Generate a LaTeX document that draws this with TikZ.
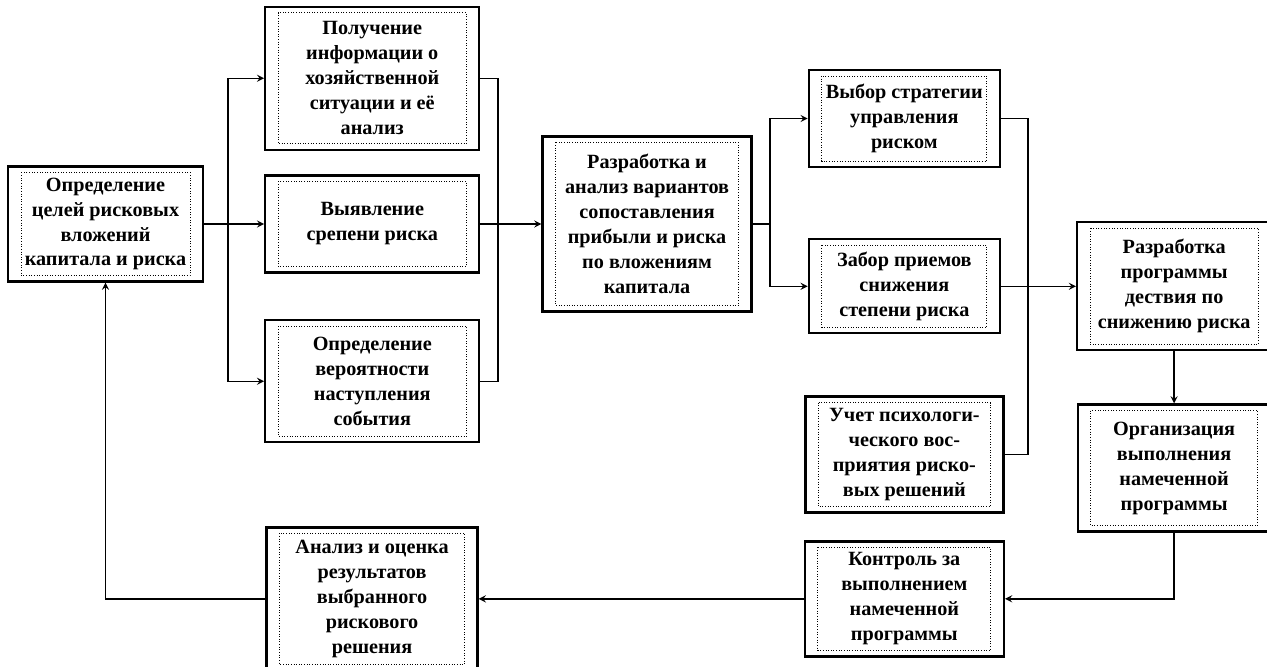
\documentclass[tikz,border=0pt]{standalone}
\usepackage{fontspec}
\setmainfont{Liberation Serif}
\usepackage{tikz}
\usetikzlibrary{arrows, positioning}

\begin{document}
\begin{tikzpicture}[
        every node/.style={font=\fontsize{11.5}{14.2}\selectfont\bfseries},
        box/.style={rectangle, draw, line width=1.3pt, align=center, inner sep=2pt,
            path picture={\draw[densely dotted, line width=0.5pt]
                ([shift={(0.26,-0.12)}]path picture bounding box.north west) rectangle
                ([shift={(-0.26,0.12)}]path picture bounding box.south east);}},
        line/.style={line width=0.8pt},
        arrow/.style={->, >=stealth, line width=0.8pt}
    ]
        \useasboundingbox (0,0) rectangle (25.34,-13.34);

        \node[box, minimum width=3.9cm, minimum height=2.3cm] (goal) at (2.11,-4.48) {Определение \\ целей рисковых \\ вложений \\ капитала и риска};
        \node[box, minimum width=4.28cm, minimum height=1.94cm, right=1.2cm of goal] (degree) {Выявление \\ срепени риска};
        \node[box, minimum width=4.28cm, minimum height=2.86cm, above=0.47cm of degree] (info) {Получение \\ информации о \\ хозяйственной \\ ситуации и её \\ анализ};
        \node[box, minimum width=4.28cm, minimum height=2.44cm, below=0.91cm of degree] (prob) {Определение \\ вероятности \\ наступления \\ события};
        \node[box, minimum width=4.18cm, minimum height=3.5cm, right=1.22cm of degree] (variants) {Разработка и \\ анализ вариантов \\ сопоставления \\ прибыли и риска \\ по вложениям \\ капитала};
        \node[box, minimum width=3.82cm, minimum height=1.94cm, right=1.1cm of variants, yshift=2.11cm] (strategy) {Выбор стратегии \\ управления \\ риском};
        \node[box, minimum width=3.82cm, minimum height=1.88cm, below=1.4cm of strategy] (methods) {Забор приемов \\ снижения \\ степени риска};
        \node[box, minimum width=3.96cm, minimum height=2.32cm, below=1.22cm of methods] (psych) {Учет психологи- \\ ческого вос- \\ приятия риско- \\ вых решений};
        \node[box, minimum width=3.88cm, minimum height=2.56cm, right=1.5cm of methods] (program) {Разработка \\ программы \\ дествия по \\ снижению риска};
        \node[box, minimum width=3.86cm, minimum height=2.54cm, below=1.04cm of program] (organize) {Организация \\ выполнения \\ намеченной \\ программы};
        \node[box, minimum width=3.98cm, minimum height=2.3cm, below=0.53cm of psych] (control) {Контроль за \\ выполнением \\ намеченной \\ программы};
        \node[box, minimum width=4.22cm, minimum height=2.86cm, left=6.5cm of control] (result) {Анализ и оценка \\ результатов \\ выбранного \\ рискового \\ решения};

        % Branch points
        \coordinate (ja) at (4.56,-4.48);
        \coordinate (jb) at (9.96,-4.48);
        \coordinate (jc) at (15.4,-4.48);
        \coordinate (jd) at (20.56,-5.68);

        % Arrows
        \draw[line] (goal.east) -- (ja);
        \draw[arrow] (ja) |- (info.west);
        \draw[arrow] (ja) -- (degree.west);
        \draw[arrow] (ja) |- (prob.west);
        \draw[line] (info.east) -| (jb);
        \draw[line] (prob.east) -| (jb);
        \draw[arrow] (degree.east) -- (variants.west);
        \draw[line] (variants.east) -- (jc);
        \draw[arrow] (jc) |- (strategy.west);
        \draw[arrow] (jc) |- (methods.west);
        \draw[line] (strategy.east) -| (jd);
        \draw[line] (psych.east) -| (jd);
        \draw[arrow] (methods.east) -- (program.west);
        \draw[arrow] (program.south) -- (organize.north);
        \draw[arrow] (organize.south) |- (control.east);
        \draw[arrow] (control.west) -- (result.east);

        % Feedback
        \draw[arrow] (result.west) -| (goal.south);

    \end{tikzpicture}
\end{document}
